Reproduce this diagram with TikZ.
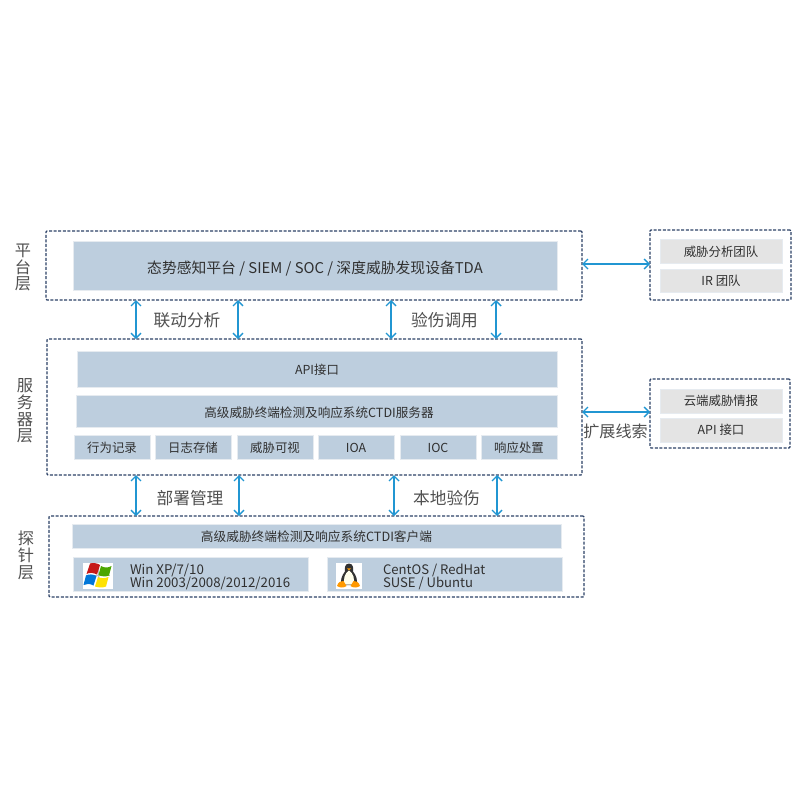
\documentclass[tikz,border=0pt]{standalone}
\usepackage{fontspec}
\setmainfont{Noto Sans CJK SC}
\usetikzlibrary{arrows.meta}
\definecolor{boxblue}{HTML}{BDCEDE}
\definecolor{boxedge}{HTML}{E6EBF0}
\definecolor{boxgray}{HTML}{E4E4E4}
\definecolor{dashc}{HTML}{2C4166}
\definecolor{arrowc}{HTML}{2196D2}
\definecolor{labelc}{HTML}{505050}
\definecolor{textc}{HTML}{303030}
\lineskiplimit=-100pt
\tikzset{
  every node/.style={inner sep=0pt,outer sep=0pt},
  tier/.style={draw=dashc,line width=1.2pt,dash pattern=on 3pt off 1.6pt,rounded corners=1pt,fill=white},
  blue box/.style={draw=boxedge,line width=0.8pt,fill=boxblue,text=textc,font=\fontsize{12.4}{14}\selectfont},
  gray box/.style={draw=boxedge,line width=0.8pt,fill=boxgray,text=textc,font=\fontsize{12.4}{14}\selectfont},
  link/.style={draw=arrowc,line width=1.4pt,{Straight Barb[length=5pt,width=10pt,line width=1.4pt]}-{Straight Barb[length=5pt,width=10pt,line width=1.4pt]}},
  side label/.style={text=labelc,font=\fontsize{16.2}{16.6}\selectfont,align=center},
  mid label/.style={text=labelc,font=\fontsize{16.7}{18}\selectfont},
}
% moves a text down by half of #1 inside its centred node
\newcommand{\TD}[2]{\raisebox{0pt}[\dimexpr\height+#1pt\relax][\depth]{#2}}
\begin{document}
\begin{tikzpicture}[x=1pt,y=-1pt]
\useasboundingbox (0,0) rectangle (800,800);
\fill[white] (0,0) rectangle (800,800);
% tiers
\node[tier,anchor=north west,minimum width=536pt,minimum height=69pt] (plat) at (46,231) {};
\node[tier,anchor=north west,minimum width=535pt,minimum height=136pt] (srv) at (47,339) {};
\node[tier,anchor=north west,minimum width=535pt,minimum height=81pt] (probe) at (49,516) {};
\node[tier,anchor=north west,minimum width=141pt,minimum height=70pt] (team) at (650,230) {};
\node[tier,anchor=north west,minimum width=140pt,minimum height=69pt] (cloud) at (650,379) {};
% platform
\node[blue box,anchor=north west,minimum width=484pt,minimum height=49pt,font=\fontsize{14.8}{16}\selectfont] (tda) at (73,241) {\TD{6}{态势感知平台 / SIEM / SOC / 深度威胁发现设备TDA}};
% server
\node[blue box,anchor=north west,minimum width=480pt,minimum height=36pt] (api) at (77,351) {\TD{2}{API接口}};
\node[blue box,anchor=north west,minimum width=481pt,minimum height=32pt,font=\fontsize{12.6}{14}\selectfont] (ctdis) at (76,395) {\hspace*{5pt}\TD{4}{高级威胁终端检测及响应系统CTDI服务器}};
\node[blue box,anchor=north west,minimum width=76pt,minimum height=24pt] (s1) at (74,435) {\TD{1}{行为记录}};
\node[blue box,anchor=north west,minimum width=76pt,minimum height=24pt] (s2) at (155,435) {\TD{1}{日志存储}};
\node[blue box,anchor=north west,minimum width=76pt,minimum height=24pt] (s3) at (237,435) {\TD{1}{威胁可视}};
\node[blue box,anchor=north west,minimum width=76pt,minimum height=24pt] (s4) at (318,435) {\TD{1}{IOA}};
\node[blue box,anchor=north west,minimum width=76pt,minimum height=24pt] (s5) at (400,435) {\TD{1}{IOC}};
\node[blue box,anchor=north west,minimum width=76pt,minimum height=24pt] (s6) at (481,435) {\TD{1}{响应处置}};
% probe
\node[blue box,anchor=north west,minimum width=489pt,minimum height=24pt,font=\fontsize{12.7}{14}\selectfont] (ctdic) at (72,524) {\TD{2}{高级威胁终端检测及响应系统CTDI客户端}};
\node[blue box,anchor=north west,minimum width=235pt,minimum height=34pt] (win) at (73,557) {};
\node[blue box,anchor=north west,minimum width=235pt,minimum height=34pt] (lin) at (327,557) {};
\node[anchor=west,text=textc,font=\fontsize{13.3}{13}\selectfont,align=left] (wint) at (130,576.5) {Win XP/7/10\\Win 2003/2008/2012/2016};
\node[anchor=west,text=textc,font=\fontsize{13.1}{13}\selectfont,align=left] (lint) at (383,576.5) {CentOS / RedHat\\SUSE / Ubuntu};
% windows icon
\fill[white] (82.5,562.5) rectangle (112.5,588.5);
\fill[black!25] (99,564) -- (99.5,586) -- (98,586) -- (97.5,564) -- cycle;
\fill[black!25] (86,574.7) -- (110,574.7) -- (110,575.8) -- (86,575.8) -- cycle;
\fill[red!75!black!90] (90,563.5) .. controls (93,562.5) and (97,563) .. (100,565) -- (97,574.5) .. controls (93,572.5) and (89,572.5) .. (86.5,574) -- cycle;
\fill[green!50!black!70!yellow] (101,566) .. controls (104.5,568) and (108,568) .. (111.5,566) -- (109,575.5) .. controls (105.5,577) and (101.5,576.5) .. (98.5,575) -- cycle;
\fill[blue!45!cyan!85!black] (86,575.5) .. controls (89,574) and (93,574) .. (96.5,576) -- (93.5,585.5) .. controls (90,583.5) and (86.5,583.5) .. (83.5,585) -- cycle;
\fill[yellow!85!orange] (98,577) .. controls (101,578.5) and (105,578.5) .. (108.5,577) -- (106,586.5) .. controls (102.5,588) and (98.5,587.5) .. (95,586.5) -- cycle;
% penguin icon
\fill[white] (336,563) rectangle (362,588.5);
\fill[black!80] (349,563.5) .. controls (344.5,563.5) and (344.5,569) .. (345,571.5) .. controls (342,575) and (340,580) .. (341.5,585) -- (356.5,585) .. controls (358,580) and (356,575) .. (353,571.5) .. controls (353.5,569) and (353.5,563.5) .. (349,563.5) -- cycle;
\fill[white!92!yellow] (349,570.5) .. controls (344.5,573) and (343,580) .. (344.5,584.5) -- (353.5,584.5) .. controls (355,580) and (353.5,573) .. (349,570.5) -- cycle;
\fill[orange!80!yellow] (347,568.3) -- (351,568.3) -- (349,570.5) -- cycle;
\fill[orange!80!yellow] (337,586) .. controls (338,582) and (341,580.5) .. (343.5,581) -- (346.5,586) .. controls (344,588) and (340,588) .. (337,586) -- cycle;
\fill[orange!80!yellow] (360,586) .. controls (359,582) and (356,580.5) .. (353.5,581) -- (350.5,586) .. controls (353,588) and (357,588) .. (360,586) -- cycle;
% right boxes
\node[gray box,anchor=north west,minimum width=122pt,minimum height=24pt] (g1) at (660,239) {\TD{2}{威胁分析团队}};
\node[gray box,anchor=north west,minimum width=122pt,minimum height=23pt] (g2) at (660,269) {IR 团队};
\node[gray box,anchor=north west,minimum width=122pt,minimum height=24pt] (g3) at (660,389) {云端威胁情报};
\node[gray box,anchor=north west,minimum width=122pt,minimum height=24pt] (g4) at (660,418) {API 接口};
% side labels
\node[side label] (l1) at (23,267.5) {平\\台\\层};
\node[side label] (l2) at (25,411) {服\\务\\器\\层};
\node[side label] (l3) at (26,555.5) {探\\针\\层};
% mid labels
\node[mid label] (m1) at (187,320) {联动分析};
\node[mid label] (m2) at (444.5,320) {验伤调用};
\node[mid label] (m3) at (190,498) {部署管理};
\node[mid label] (m4) at (446.5,498) {本地验伤};
\node[text=labelc,font=\fontsize{16.1}{17}\selectfont] (m5) at (615.5,431.5) {扩展线索};
% connector guides
\coordinate (a1) at (136,0); \coordinate (a2) at (238,0);
\coordinate (a3) at (391,0);   \coordinate (a4) at (496,0);
\coordinate (b1) at (136,0);   \coordinate (b2) at (239,0);
\coordinate (b3) at (394,0);   \coordinate (b4) at (497,0);
\coordinate (h1) at (0,264);   \coordinate (h2) at (0,412);
\draw[link] (plat.south -| a1) -- (srv.north -| a1);
\draw[link] (plat.south -| a2) -- (srv.north -| a2);
\draw[link] (plat.south -| a3) -- (srv.north -| a3);
\draw[link] (plat.south -| a4) -- (srv.north -| a4);
\draw[link] (srv.south -| b1) -- (probe.north -| b1);
\draw[link] (srv.south -| b2) -- (probe.north -| b2);
\draw[link] (srv.south -| b3) -- (probe.north -| b3);
\draw[link] (srv.south -| b4) -- (probe.north -| b4);
\draw[link] (plat.east |- h1) -- (team.west |- h1);
\draw[link] (srv.east |- h2) -- (cloud.west |- h2);
\end{tikzpicture}
\end{document}
